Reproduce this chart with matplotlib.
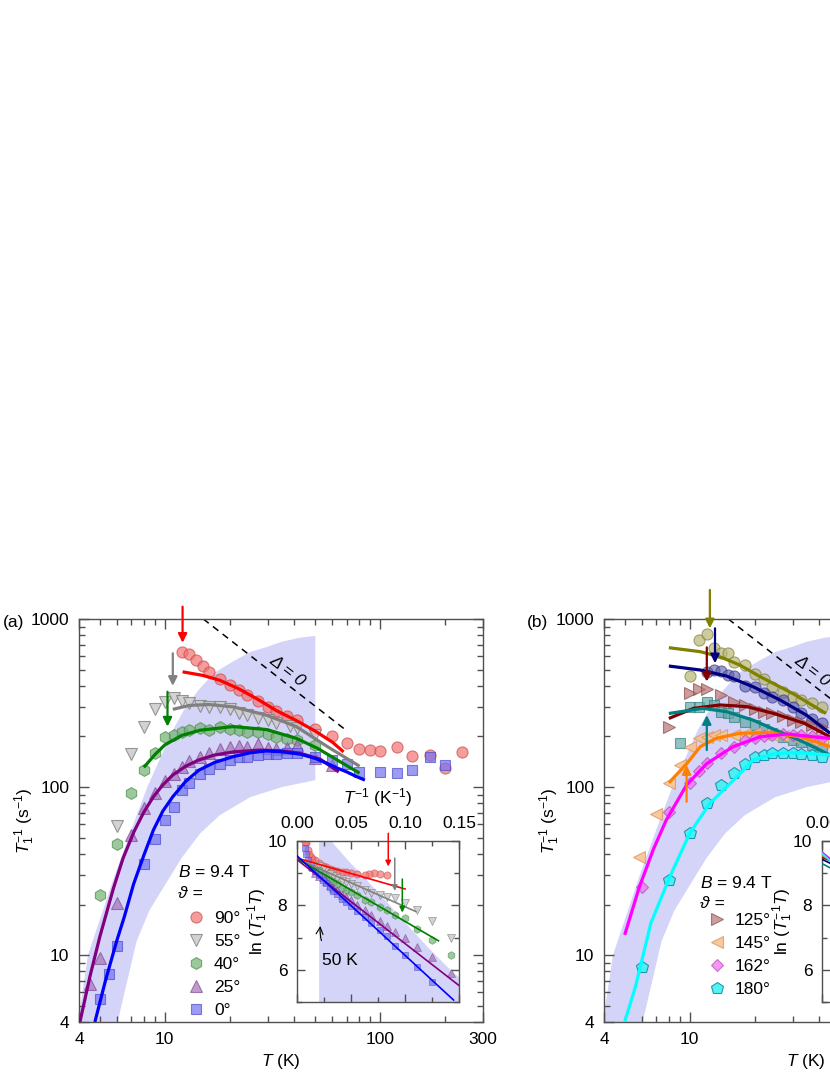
import numpy as np
import matplotlib
matplotlib.use('Agg')
import matplotlib.pyplot as plt
from matplotlib.ticker import FixedLocator, FixedFormatter, NullFormatter

plt.rcParams['font.family'] = ['Liberation Sans', 'DejaVu Sans']
plt.rcParams['mathtext.fontset'] = 'custom'
plt.rcParams['mathtext.rm'] = 'Liberation Sans'
plt.rcParams['mathtext.it'] = 'Liberation Sans:italic'
plt.rcParams['font.size'] = 12

# ---------------- data : panel (a) ----------------
T_90 = [12, 13, 14, 15, 16, 18, 20, 22, 24, 27, 30, 33, 37, 41, 50, 60, 70, 80, 90, 100, 120, 140, 170, 200, 240]
R_90 = [634, 615, 574, 523, 481, 438, 405, 378, 353, 325, 301, 283, 265, 250, 223, 202, 182, 168, 166, 164, 172, 153, 155, 129, 161]
T_55 = [6, 7, 8, 9, 10, 11, 12, 13, 14.5, 16, 18, 20, 22, 24, 27, 30, 33, 38, 41, 50]
R_55 = [59, 157, 229, 291, 322, 340, 325, 317, 303, 298, 300, 290, 277, 268, 256, 250, 240, 231, 225, 205]
T_40 = [5, 6, 7, 8, 9, 10, 11, 12, 13, 14.5, 16, 18, 20, 22, 24, 27, 30, 33, 37, 41, 50]
R_40 = [22.7, 45.8, 92.5, 126, 160, 199.5, 204, 213, 218, 225, 220, 229, 223, 220, 213, 213, 207, 199.5, 192, 190, 178]
T_25 = [4.5, 5, 6, 7, 8, 9, 10, 11, 12, 13, 14.5, 16, 18, 20, 22, 24, 27, 30, 33, 37, 41, 50, 60]
R_25 = [6.7, 9.6, 20.5, 52, 75, 92, 108, 120, 132, 142, 152, 160, 168, 174, 176, 172, 180, 170, 168, 170, 178, 148, 135]
T_0 = [5, 5.5, 6, 8, 9, 10, 11, 12, 13, 14.5, 16, 18, 20, 22, 24, 27, 30, 33, 37, 41, 50, 60, 70, 80, 100, 120, 140, 170, 200]
R_0 = [5.5, 7.7, 11.3, 35, 48.8, 63.5, 76, 95.8, 106, 120, 128, 138, 145, 150, 152, 155, 157, 158, 160, 159, 152, 145, 138, 123, 123, 122, 127, 150, 135]

# fit curves
FT_90 = [12.1, 15, 18, 22, 27, 33, 41, 50, 60, 67.6]
FR_90 = [485, 462, 432, 385, 333, 285, 248, 215, 185, 162]
FT_55 = [10.9, 13, 16, 20.8, 29.6, 40.8, 56.9, 80.2]
FR_55 = [290, 306, 310, 300, 268, 229, 174, 133]
FT_40 = [8, 9, 10, 12, 14.6, 20.8, 29.6, 40.8, 51.2, 63.1, 80.2]
FR_40 = [131, 156, 178, 203, 218, 229, 220, 195, 170, 145, 121]
FT_25 = [4.04, 4.5, 5, 5.78, 6.4, 7.2, 8, 8.86, 9.8, 10.9, 12.5, 14.4, 17, 20.9, 27.6, 35, 42.5, 52.7, 64.2]
FR_25 = [4, 7.5, 12.9, 25, 37.6, 54.3, 71, 87.6, 103, 118, 133, 145, 155, 162, 166, 164, 159, 146.5, 123]
FT_0 = [4.74, 5.3, 5.98, 6.5, 7.17, 8, 8.86, 9.8, 10.9, 12.5, 14.4, 17, 20.9, 25, 29.6, 35, 42.5, 50, 56.9, 63, 70, 77, 84.9]
FR_0 = [4, 7, 12.1, 17, 26.5, 39.3, 55.5, 72, 87.6, 108, 126, 140, 152, 160, 164, 162, 157, 148, 138, 130, 123, 116, 110]

# arrows (a): T, start, tip
AR_a_T = [12.1, 10.9, 10.3]
AR_a_from = [1184, 625, 369]
AR_a_to = [722, 400, 229]
AR_a_col = ['#ff0000', '#808080', '#008000']

# inset (a) straight fits
IN_a_t1 = [0.100, 0.110, 0.131, 0.1505, 0.145]
IN_a_y0 = [9.47, 9.45, 9.45, 9.42, 9.54]
IN_a_y1 = [8.51, 7.81, 6.90, 5.50, 5.06]
INAR_a_t = [0.0845, 0.0905, 0.0975]
INAR_a_from = [10.24, 9.47, 8.82]
INAR_a_to = [9.21, 8.45, 7.78]

# ---------------- data : panel (b) ----------------
T_ol = [10, 11, 12, 13, 14, 15, 16, 18, 20, 22, 24, 27, 30, 33, 37, 41]
R_ol = [458, 750, 814, 669, 625, 630, 557, 535, 470, 440, 395, 369, 345, 330, 315, 300]
T_nv = [12, 13, 14, 15, 16, 18, 20, 22, 24, 27, 30, 33, 37, 41]
R_nv = [486, 497, 490, 464, 458, 400, 395, 361, 345, 330, 301, 274, 255, 240]
T_125 = [8, 10, 11, 12, 14, 16, 18, 20, 22, 24, 27, 30, 33, 37, 41]
R_125 = [229, 361, 381, 381, 353, 322, 308, 290, 280, 274, 263, 250, 245, 235, 229]
T_tl = [9, 10, 11, 12, 13, 14, 15, 16, 18, 20, 22, 24, 27, 30, 33, 37, 41]
R_tl = [182, 301, 301, 322, 308, 281, 274, 260, 245, 234, 223, 209, 199, 190, 185, 178, 170]
T_145 = [5.84, 7, 8, 9, 10, 11, 12, 13, 14, 16, 18, 20, 22, 24, 27, 30, 33, 37, 41]
R_145 = [38.5, 69, 106, 135, 174, 195, 199, 204, 205, 205, 208, 210, 208, 205, 200, 198, 195, 190, 185]
T_162 = [6, 8, 10, 11, 12, 14, 16, 18, 20, 22, 24, 27, 30, 33, 37, 41]
R_162 = [25.5, 71, 106, 125, 140, 159, 174, 190, 196, 200, 205, 207, 205, 203, 200, 195]
T_180 = [6, 8, 10, 12, 14, 16, 18, 20, 22, 24, 27, 30, 33, 37, 41]
R_180 = [8.5, 28, 53.5, 80, 103, 121, 138, 152, 155, 159, 160, 160, 158, 155, 152]

FT_ol = [8, 11.2, 13.8, 17.1, 21.2, 30, 42.9]
FR_ol = [675, 639, 596, 532, 454, 361, 274]
FT_nv = [8, 11.2, 14.8, 19.7, 26.2, 34.8, 44.8]
FR_nv = [525, 497, 458, 395, 330, 268, 209]
FT_125 = [8, 10.4, 13.8, 18.4, 24.6, 33.9, 44.8]
FR_125 = [256, 294, 308, 301, 274, 240, 199]
FT_tl = [8, 11.5, 14.8, 19.7, 26.2, 34.8, 44.8]
FR_tl = [274, 294, 281, 250, 213, 182, 155]
FT_145 = [8, 9.7, 11.2, 13.3, 17.1, 22.7, 32.9, 44.8]
FR_145 = [106, 138, 174, 195, 209, 211, 199, 174]
FT_162 = [4.99, 5.84, 6.8, 7.78, 9.67, 12, 15.9, 21.2, 28.3, 37.5, 44.8]
FR_162 = [13.2, 25.5, 43, 63.6, 103, 138, 174, 199, 207, 199, 195]
FT_180 = [4.99, 5.6, 6.6, 8.09, 10, 12.4, 15.4, 19.7, 25.3, 32.9, 44.8]
FR_180 = [4, 6.5, 15.5, 29.3, 53, 80, 105, 145, 159, 160, 155]

AR_b_T = [12.4, 13.1, 12.0, 12.0, 9.67]
AR_b_from = [1488, 880, 678, 166, 81.8]
AR_b_to = [880, 545, 424, 268, 135]
AR_b_col = ['#808000', '#000080', '#800000', '#008080', '#ff8000']

IN_b_y0 = [9.48, 9.43, 9.50, 9.30, 9.55, 9.66, 9.62]
IN_b_y1 = [8.28, 7.83, 8.10, 7.50, 7.55, 6.86, 6.42]

# shaded band and Delta = 0 line (shared)
BU_T = [3.9, 4.4, 5.76, 7, 8.3, 10.9, 12.5, 14.4, 17, 20.8, 25, 29.6, 35, 42.6, 50]
BU_R = [3.5, 10, 28, 56, 100, 218, 299, 380, 479, 560, 637, 680, 733, 775, 793]
BL_T = [5.9, 7.4, 8.5, 10, 12, 14.6, 18, 24.9, 35, 50]
BL_R = [3.5, 12.1, 18.5, 26, 38, 53, 68, 87, 100, 110]
D0_T = [15.1, 70]
D0_R = [1000, 216]

X_TICKS = [4, 10, 100, 300]
X_MINOR = [5, 6, 7, 8, 9, 20, 30, 40, 50, 60, 70, 80, 90, 200]
Y_TICKS = [4, 10, 100, 1000]
Y_MINOR = [5, 6, 7, 8, 9, 20, 30, 40, 50, 60, 70, 80, 90, 200, 300, 400, 500, 600, 700, 800, 900]
IX_TICKS = [0.0, 0.05, 0.10, 0.15]
IX_MINOR = [0.025, 0.075, 0.125]
IY_TICKS = [6, 8, 10]
IY_MINOR = [5, 7, 9]

# ---------------- styles ----------------
def sty(marker, ms, fc, ec):
    return dict(marker=marker, ms=ms, mfc=fc, mec=ec, mew=0.8, ls='none')

S90 = sty('o', 8, (0.95, 0.45, 0.45, 0.7), (0.8, 0.3, 0.3, 0.7))
S55 = sty('v', 8.5, (0.80, 0.80, 0.80, 0.85), (0.5, 0.5, 0.5, 0.8))
S40 = sty('h', 8.5, (0.45, 0.70, 0.45, 0.7), (0.3, 0.55, 0.3, 0.7))
S25 = sty('^', 8.5, (0.65, 0.45, 0.72, 0.7), (0.5, 0.3, 0.58, 0.7))
S0 = sty('s', 7, (0.45, 0.45, 0.95, 0.7), (0.3, 0.3, 0.8, 0.7))
SOL = sty('o', 8, (0.72, 0.72, 0.45, 0.7), (0.5, 0.5, 0.3, 0.7))
SNV = sty('o', 8, (0.35, 0.35, 0.68, 0.6), (0.2, 0.2, 0.5, 0.6))
S125 = sty('>', 8.5, (0.72, 0.45, 0.45, 0.7), (0.55, 0.3, 0.3, 0.7))
STL = sty('s', 7, (0.40, 0.66, 0.66, 0.7), (0.2, 0.5, 0.5, 0.7))
S145 = sty('<', 8.5, (0.98, 0.75, 0.55, 0.85), (0.85, 0.6, 0.4, 0.8))
S162 = sty('D', 6.5, (0.95, 0.45, 0.95, 0.75), (0.7, 0.3, 0.7, 0.7))
S180 = sty('p', 9, (0.25, 0.95, 0.95, 0.9), (0.1, 0.55, 0.65, 0.9))

BAND = '#d4d4f8'
SPINE = '#505050'

W, H = 830, 1075
fig = plt.figure(figsize=(W / 100, H / 100), dpi=100)

def fx(px):
    return px / W

def fy(py):
    return 1 - py / H

def setup_main(ax):
    ax.set_xscale('log')
    ax.set_yscale('log')
    ax.set_xlim(4, 300)
    ax.set_ylim(4, 1000)
    ax.xaxis.set_major_locator(FixedLocator(X_TICKS))
    ax.xaxis.set_major_formatter(FixedFormatter([str(v) for v in X_TICKS]))
    ax.xaxis.set_minor_locator(FixedLocator(X_MINOR))
    ax.xaxis.set_minor_formatter(NullFormatter())
    ax.yaxis.set_major_locator(FixedLocator(Y_TICKS))
    ax.yaxis.set_major_formatter(FixedFormatter([str(v) for v in Y_TICKS]))
    ax.yaxis.set_minor_locator(FixedLocator(Y_MINOR))
    ax.yaxis.set_minor_formatter(NullFormatter())
    ax.tick_params(which='both', direction='in', top=True, right=True, color=SPINE, width=1, labelsize=12.5, pad=7)
    ax.tick_params(which='major', length=7)
    ax.tick_params(which='minor', length=4.5)
    for s in ax.spines.values():
        s.set_color(SPINE)
        s.set_linewidth(1)
    ax.set_xlabel(r'$T$ (K)', fontsize=12.5, va='center')
    ax.xaxis.set_label_coords(0.5, -0.099)
    ax.set_ylabel(r'$T_1^{-1}$ (s$^{-1}$)', fontsize=12.5, va='center')
    ax.yaxis.set_label_coords(-0.134, 0.5)
    ax.fill(np.r_[BU_T, BL_T[::-1]], np.r_[BU_R, BL_R[::-1]], color=BAND, lw=0, zorder=0)
    ax.plot(D0_T, D0_R, color='black', lw=1.1, ls=(0, (4.5, 3.5)), zorder=1)
    ax.text(36.9, 490, 'Δ = 0', rotation=-37.7, ha='center', va='center', rotation_mode='anchor', fontsize=12.5, fontstyle='italic')

def setup_inset(ax):
    ax.set_xlim(0, 0.15)
    ax.set_ylim(5, 10)
    ax.xaxis.tick_top()
    ax.xaxis.set_major_locator(FixedLocator(IX_TICKS))
    ax.xaxis.set_major_formatter(FixedFormatter(['%.2f' % v for v in IX_TICKS]))
    ax.xaxis.set_minor_locator(FixedLocator(IX_MINOR))
    ax.yaxis.set_major_locator(FixedLocator(IY_TICKS))
    ax.yaxis.set_major_formatter(FixedFormatter([str(v) for v in IY_TICKS]))
    ax.yaxis.set_minor_locator(FixedLocator(IY_MINOR))
    ax.tick_params(which='both', direction='in', top=True, bottom=True, right=True, left=True,
                   labeltop=True, labelbottom=False, color=SPINE, width=1, labelsize=12.5, pad=7)
    ax.tick_params(which='major', length=6)
    ax.tick_params(which='minor', length=3.5)
    for s in ax.spines.values():
        s.set_color(SPINE)
        s.set_linewidth(1)
    ax.xaxis.set_label_position('top')
    ax.set_xlabel(r'$T^{-1}$ (K$^{-1}$)', fontsize=12.5, va='center')
    ax.xaxis.set_label_coords(0.5, 1.267)
    ax.set_ylabel(r'ln ($T_1^{-1}T$)', fontsize=12.5, va='center')
    ax.yaxis.set_label_coords(-0.24, 0.5)
    bt = 1.0 / np.asarray(BU_T, float)
    by = np.log(np.asarray(BU_T, float) * np.asarray(BU_R, float))
    order = np.argsort(bt)
    ax.fill_between(bt[order], 0, by[order], color=BAND, lw=0, zorder=0)
    ax.set_facecolor('white')

def inset_pts(ax, T, R, st):
    T = np.asarray(T, float)
    R = np.asarray(R, float)
    d = dict(st)
    d['ms'] = st['ms'] * 0.65
    d['mew'] = 0.5
    ax.plot(1.0 / T, np.log(R * T), **d)

def arrow(ax, x, y0, y1, col, lw=1.6, ms=13):
    ax.annotate('', xy=(x, y1), xytext=(x, y0),
                arrowprops=dict(arrowstyle='-|>', color=col, lw=lw, mutation_scale=ms, shrinkA=0, shrinkB=0),
                annotation_clip=False)

# ================= panel (a) =================
axa = fig.add_axes([fx(79), fy(1022), fx(404), 403 / H])
setup_main(axa)
ha = []
for T, R, st, lab in [(T_90, R_90, S90, '90°'), (T_55, R_55, S55, '55°'), (T_40, R_40, S40, '40°'),
                      (T_25, R_25, S25, '25°'), (T_0, R_0, S0, '0°')]:
    ha.append(axa.plot(T, R, label=lab, zorder=2, **st)[0])
for T, R, c in [(FT_90, FR_90, '#ff0000'), (FT_55, FR_55, '#808080'), (FT_40, FR_40, '#008000'),
                (FT_25, FR_25, '#800080'), (FT_0, FR_0, '#0000ff')]:
    axa.plot(T, R, color=c, lw=2.3, zorder=3, solid_capstyle='butt', solid_joinstyle='round')
for x, a0, a1, c in zip(AR_a_T, AR_a_from, AR_a_to, AR_a_col):
    arrow(axa, x, a0, a1, c)
fig.text(fx(178), fy(872), r'$B$ = 9.4 T', fontsize=12.5, va='center')
fig.text(fx(178), fy(894), 'ϑ =', fontsize=12.5, va='center', fontstyle='italic')
axa.legend(handles=ha, loc='upper left', bbox_to_anchor=(fx(187), fy(911)), bbox_transform=fig.transFigure,
           frameon=False, fontsize=12.5, handlelength=1.0, handletextpad=0.55, labelspacing=0.45,
           borderpad=0, borderaxespad=0, numpoints=1)
fig.text(fx(3), fy(623), '(a)', fontsize=12.5, va='center')

ina = fig.add_axes([fx(297), fy(1002), fx(162), 161 / H])
setup_inset(ina)
for T, R, st in [(T_90, R_90, S90), (T_55, R_55, S55), (T_40, R_40, S40), (T_25, R_25, S25), (T_0, R_0, S0)]:
    inset_pts(ina, T, R, st)
for t1, y0, y1, c in zip(IN_a_t1, IN_a_y0, IN_a_y1, ['#ff0000', '#808080', '#008000', '#800080', '#0000ff']):
    ina.plot([0, t1], [y0, y1], color=c, lw=1.2, zorder=3)
for x, a0, a1, c in zip(INAR_a_t, INAR_a_from, INAR_a_to, AR_a_col):
    arrow(ina, x, a0, a1, c, lw=1.1, ms=8)
ina.annotate('50 K', xy=(0.0216, 7.36), xytext=(0.0398, 6.28), ha='center', va='center', fontsize=12.5,
             arrowprops=dict(arrowstyle='->', color='black', lw=0.8, connectionstyle='arc3,rad=-0.35',
                             shrinkA=8, shrinkB=0))

# ================= panel (b) =================
axb = fig.add_axes([fx(604), fy(1022), fx(404), 403 / H])
setup_main(axb)
hb = []
for T, R, st, lab in [(T_ol, R_ol, SOL, None), (T_nv, R_nv, SNV, None), (T_125, R_125, S125, '125°'),
                      (T_tl, R_tl, STL, None), (T_145, R_145, S145, '145°'), (T_162, R_162, S162, '162°'),
                      (T_180, R_180, S180, '180°')]:
    h = axb.plot(T, R, label=lab, zorder=2, **st)[0]
    if lab:
        hb.append(h)
FB_COL = ['#808000', '#000080', '#800000', '#008080', '#ff8000', '#ff00ff', '#00ffff']
for (T, R), c in zip([(FT_ol, FR_ol), (FT_nv, FR_nv), (FT_125, FR_125), (FT_tl, FR_tl),
                      (FT_145, FR_145), (FT_162, FR_162), (FT_180, FR_180)], FB_COL):
    axb.plot(T, R, color=c, lw=2.3, zorder=3, solid_capstyle='butt', solid_joinstyle='round')
for x, a0, a1, c in zip(AR_b_T, AR_b_from, AR_b_to, AR_b_col):
    arrow(axb, x, a0, a1, c)
fig.text(fx(700), fy(883), r'$B$ = 9.4 T', fontsize=12.5, va='center')
fig.text(fx(700), fy(904), 'ϑ =', fontsize=12.5, va='center', fontstyle='italic')
axb.legend(handles=hb, loc='upper left', bbox_to_anchor=(fx(708), fy(913)), bbox_transform=fig.transFigure,
           frameon=False, fontsize=12.5, handlelength=1.0, handletextpad=0.55, labelspacing=0.45,
           borderpad=0, borderaxespad=0, numpoints=1)
fig.text(fx(527), fy(623), '(b)', fontsize=12.5, va='center')

inb = fig.add_axes([fx(822), fy(1002), fx(162), 161 / H])
setup_inset(inb)
for T, R, st in [(T_ol, R_ol, SOL), (T_nv, R_nv, SNV), (T_125, R_125, S125), (T_tl, R_tl, STL),
                 (T_145, R_145, S145), (T_162, R_162, S162), (T_180, R_180, S180)]:
    inset_pts(inb, T, R, st)
for y0, y1, c in zip(IN_b_y0, IN_b_y1, FB_COL):
    inb.plot([0, 0.1], [y0, y1], color=c, lw=1.2, zorder=3)

fig.savefig('out.png', dpi=100)
